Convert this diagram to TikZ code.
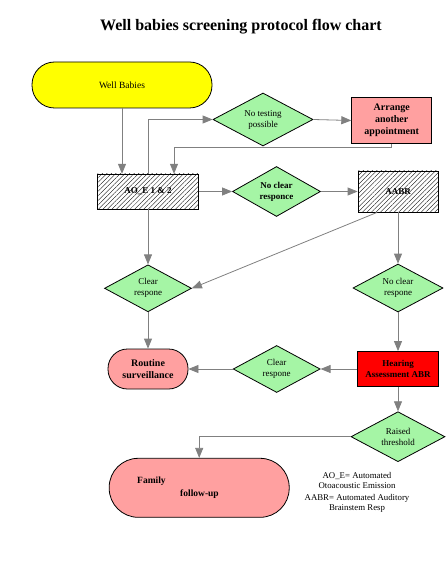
\documentclass[tikz,border=0pt]{standalone}
\usepackage{fontspec}
\setmainfont{Liberation Serif}
\usetikzlibrary{arrows.meta,shapes.geometric,patterns.meta}

\definecolor{babyyellow}{RGB}{255,255,0}
\definecolor{decgreen}{RGB}{165,245,165}
\definecolor{actpink}{RGB}{255,160,160}
\definecolor{flowgray}{RGB}{128,128,128}

\begin{document}
\begin{tikzpicture}[x=1pt, y=-1pt, >={Triangle[width=8pt,length=10pt]}, font=\fontsize{9}{11}\selectfont]
\tikzstyle{terminal}=[rectangle, draw, line width=0.8pt, align=center];
\tikzstyle{decision}=[diamond, aspect=2, draw, line width=0.8pt, fill=decgreen, inner sep=0pt, align=center];
\tikzstyle{process}=[rectangle, draw, line width=0.8pt, align=center, font=\fontsize{9}{11.5}\selectfont\bfseries];
\tikzstyle{test}=[process, pattern={Lines[angle=45, distance=3.2pt, line width=0.35pt]}];
\tikzstyle{flow}=[flowgray, line width=0.8pt];
\useasboundingbox (0,0) rectangle (447,561);

\node[font=\fontsize{16}{19}\selectfont\bfseries] (title) at (241,27) {Well babies screening protocol flow chart};

\node[terminal, fill=babyyellow, rounded corners=22.5pt, minimum width=180pt, minimum height=46pt, font=\fontsize{9.5}{11}\selectfont] (well) at (122,85) {Well Babies};
\node[decision, minimum width=100pt, minimum height=53pt] (notest) at (263,119.5) {No testing\\possible};
\node[process, fill=actpink, minimum width=80pt, minimum height=46pt, font=\fontsize{10}{12}\selectfont\bfseries] (arrange) at (391.7,120.5) {Arrange\\another\\appointment};

\node[test, minimum width=101pt, minimum height=35pt] (aoe) at (148,191.5) {AO\_E 1 \& 2};
\node[decision, minimum width=88pt, minimum height=50pt, font=\fontsize{9}{11}\selectfont\bfseries] (noclear) at (276.5,191.5) {No clear\\responce};
\node[test, minimum width=80pt, minimum height=41pt] (aabr) at (398,191.5) {AABR};

\node[decision, minimum width=87pt, minimum height=47pt] (clearl) at (148,288.3) {Clear\\respone};
\node[decision, minimum width=90pt, minimum height=48pt] (noclearr) at (398,288) {No clear\\respone};

\node[terminal, fill=actpink, rounded corners=19.5pt, minimum width=80pt, minimum height=40pt, font=\fontsize{10}{12}\selectfont\bfseries] (routine) at (148,369) {Routine\\surveillance};
\node[decision, minimum width=87pt, minimum height=47pt] (clearm) at (276.7,369) {Clear\\respone};
\node[process, fill=red, minimum width=81pt, minimum height=35pt] (hearing) at (398,369) {Hearing\\Assessment ABR};

\node[decision, minimum width=94pt, minimum height=50pt] (raised) at (398,436.7) {Raised\\threshold};
\node[terminal, fill=actpink, rounded corners=29pt, minimum width=180pt, minimum height=59pt, text width=150pt, align=left, font=\fontsize{9.5}{13}\selectfont\bfseries] (family) at (199.2,487.8) {\hspace*{13pt}Family\\\hspace*{56pt}follow-up};

\node[align=center, font=\fontsize{8.8}{10}\selectfont] (legend) at (357,492) {AO\_E= Automated\\Otoacoustic Emission\\[2pt]AABR= Automated Auditory\\Brainstem Resp};

\coordinate (back) at (174,147);

\draw[->, flow] (well.south) -- (well.south |- aoe.north);
\draw[->, flow] (aoe.north) |- (notest.west);
\draw[->, flow] (notest.east) -- (arrange.west);
\draw[->, flow] (arrange.south) |- (back) -- (back |- aoe.north);

\draw[->, flow] (aoe.east) -- (noclear.west);
\draw[->, flow] (noclear.east) -- (aabr.west);
\draw[->, flow] (aoe.south) -- (clearl.north);
\draw[->, flow] (aabr.225) -- (clearl.east);
\draw[->, flow] (aabr.south) -- (noclearr.north);

\draw[->, flow] (noclearr.south) -- (hearing.north);
\draw[->, flow] (clearl.south) -- (routine.north);
\draw[->, flow] (hearing.west) -- (clearm.east);
\draw[->, flow] (clearm.west) -- (routine.east);

\draw[->, flow] (hearing.south) -- (raised.north);
\draw[->, flow] (raised.west) -| (family.north);
\end{tikzpicture}
\end{document}
